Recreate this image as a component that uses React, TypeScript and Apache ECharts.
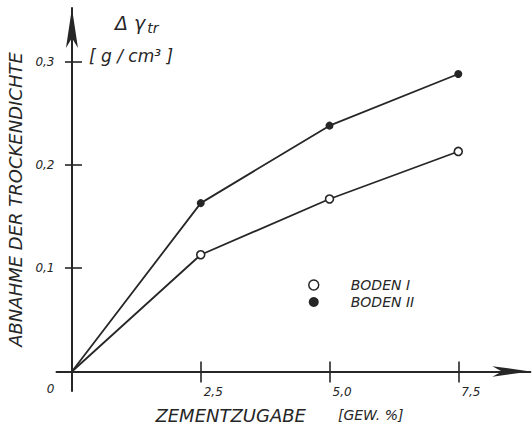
import React, { useEffect, useRef } from "react";
import * as echarts from "echarts";

// Cement content [% by weight] and decrease in dry density [g/cm³]
const cementContent = [0, 2.5, 5.0, 7.5];
const bodenI = [0, 0.113, 0.167, 0.213];
const bodenII = [0, 0.163, 0.238, 0.288];
const seriesNames = ["BODEN I", "BODEN II"];

const xTicks = [2.5, 5.0, 7.5];
const yTicks = [0.1, 0.2, 0.3];
const yLabels = [0, 0.1, 0.2, 0.3];

const X_MIN = -0.3;
const X_MAX = 8.9;
const Y_MIN = -0.019;
const Y_MAX = 0.352;

const INK = "#262626";
const FONT = "DejaVu Sans";

const decimalComma = (v: number) => v.toFixed(1).replace(".", ",");

// first point (origin) is drawn without a marker
const toPoints = (values: number[]) =>
  cementContent.map((x, i) =>
    i === 0 ? { value: [x, values[i]], symbol: "none" } : [x, values[i]]
  );

const tickLine = { color: INK, width: 1.6 };
const axisLine = { color: INK, width: 2 };
const txt = { fontFamily: FONT, fontStyle: "italic", fontWeight: "normal", color: INK };

export default function App() {
  const ref = useRef<HTMLDivElement>(null);

  useEffect(() => {
    if (!ref.current) return;
    const chart = echarts.init(ref.current, undefined, { renderer: "svg" });

    chart.setOption({
      animation: false,
      backgroundColor: "#ffffff",
      title: [
        {
          text: "{d|Δ γ}{s|tr}",
          left: 110,
          top: 8,
          textStyle: {
            ...txt,
            rich: {
              d: { ...txt, fontSize: 19, lineHeight: 20, verticalAlign: "top" },
              s: { ...txt, fontSize: 14, lineHeight: 14, padding: [9, 0, 0, 2] },
            },
          },
        },
        {
          text: "[ g / cm³ ]",
          left: 84,
          top: 42,
          textStyle: { ...txt, fontSize: 17 },
        },
      ],
      legend: {
        orient: "vertical",
        left: 303,
        top: 273,
        itemGap: 3,
        itemWidth: 10,
        itemHeight: 10,
        selectedMode: false,
        textStyle: { ...txt, fontSize: 14, padding: [0, 0, 0, 27] },
        data: [
          { name: seriesNames[0], icon: "circle", itemStyle: { color: "#ffffff", borderColor: INK, borderWidth: 1.5 } },
          { name: seriesNames[1], icon: "circle", itemStyle: { color: INK, borderWidth: 0 } },
        ],
      },
      grid: { left: 56.5, right: 1.6, top: 7.9, bottom: 34.9, containLabel: false, outerBoundsMode: "none" },
      xAxis: [
        {
          type: "value",
          min: X_MIN,
          max: X_MAX,
          position: "bottom",
          axisLine: { onZero: true, onZeroAxisIndex: 0, lineStyle: axisLine, symbol: ["none", "arrow"], symbolSize: [8, 38] },
          axisTick: { show: true, inside: true, length: 10, customValues: xTicks, lineStyle: tickLine },
          axisLabel: {
            ...txt,
            customValues: xTicks,
            formatter: (v: number) => decimalComma(v),
            align: "left",
            margin: -5,
            padding: [0, 0, 0, 3],
            fontSize: 12,
          },
          splitLine: { show: false },
          name: "{a|ZEMENTZUGABE}{b|[GEW. %]}",
          nameLocation: "middle",
          nameGap: 15,
          nameTextStyle: {
            padding: [0, 28, 0, 0],
            rich: {
              a: { ...txt, fontSize: 18 },
              b: { ...txt, fontSize: 14, padding: [0, 0, 0, 32] },
            },
          },
        },
        {
          type: "value",
          min: X_MIN,
          max: X_MAX,
          position: "bottom",
          axisLine: { show: true, onZero: true, onZeroAxisIndex: 1, lineStyle: { opacity: 0 } },
          axisTick: { show: true, inside: false, length: 11, customValues: xTicks, lineStyle: tickLine },
          axisLabel: { show: false },
          splitLine: { show: false },
        },
      ],
      yAxis: [
        {
          type: "value",
          min: Y_MIN,
          max: Y_MAX,
          position: "left",
          axisLine: { onZero: true, onZeroAxisIndex: 0, lineStyle: axisLine, symbol: ["none", "arrow"], symbolSize: [9, 40] },
          axisTick: { show: true, inside: true, length: 10, customValues: yTicks, lineStyle: tickLine },
          axisLabel: {
            ...txt,
            customValues: yLabels,
            formatter: (v: number) => (v === 0 ? "{o|0}" : decimalComma(v)),
            margin: 2,
            fontSize: 12,
            rich: {
              o: { ...txt, fontSize: 12, padding: [36, 0, 0, 0] },
            },
          },
          splitLine: { show: false },
          name: "ABNAHME DER TROCKENDICHTE",
          nameLocation: "middle",
          nameGap: 23,
          nameTextStyle: { ...txt, fontSize: 18 },
        },
        {
          type: "value",
          min: Y_MIN,
          max: Y_MAX,
          position: "left",
          axisLine: { show: true, onZero: true, onZeroAxisIndex: 1, lineStyle: { opacity: 0 } },
          axisTick: { show: true, inside: false, length: 7, customValues: yTicks, lineStyle: tickLine },
          axisLabel: { show: false },
          splitLine: { show: false },
        },
      ],
      series: [
        {
          name: seriesNames[0],
          type: "line",
          xAxisIndex: 0,
          yAxisIndex: 0,
          data: toPoints(bodenI),
          symbol: "circle",
          symbolSize: 8,
          lineStyle: { color: INK, width: 1.8 },
          itemStyle: { color: "#ffffff", borderColor: INK, borderWidth: 1.6 },
          z: 3,
        },
        {
          name: seriesNames[1],
          type: "line",
          xAxisIndex: 0,
          yAxisIndex: 0,
          data: toPoints(bodenII),
          symbol: "circle",
          symbolSize: 8,
          lineStyle: { color: INK, width: 1.8 },
          itemStyle: { color: INK, borderWidth: 0 },
          z: 3,
        },
      ],
    });

    return () => chart.dispose();
  }, []);

  return (
    <div
      ref={ref}
      style={{ position: "fixed", left: 0, top: 0, width: 532, height: 426, background: "#ffffff" }}
    />
  );
}
